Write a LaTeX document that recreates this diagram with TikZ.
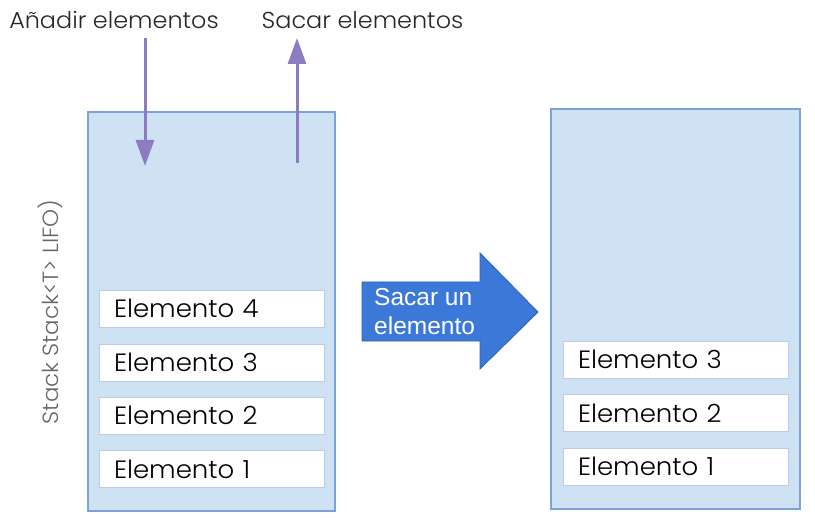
\documentclass[tikz,border=0pt]{standalone}
\usepackage{fontspec}
\setmainfont{Poppins Light}[FakeStretch=1.04]
\newfontfamily\arialfont{Liberation Sans}
\usetikzlibrary{arrows.meta}
\definecolor{stackfill}{HTML}{CFE2F3}
\definecolor{stackline}{HTML}{7BA3DA}
\definecolor{itemline}{HTML}{B7CDEB}
\definecolor{violetarrow}{HTML}{8E7CC3}
\definecolor{bigblue}{HTML}{3C78D8}
\definecolor{bigblueline}{HTML}{2F62B5}
\definecolor{greytext}{HTML}{666666}
\tikzset{
  stackbox/.style={draw=stackline, fill=stackfill, line width=1.2pt, inner sep=0pt},
  itembox/.style={draw=itemline, fill=white, line width=1pt, minimum height=37pt, text width=195pt, inner xsep=15pt, inner ysep=0pt, align=left, font=\fontsize{25}{28}\selectfont},
  toplabel/.style={anchor=base, font=\fontsize{23}{26}\selectfont, text=black!85},
  purplearrow/.style={draw=violetarrow, line width=3pt, -{Triangle[width=18pt,length=26pt]}},
}
\begin{document}
\begin{tikzpicture}[x=1pt,y=-1pt]
\useasboundingbox (0,0) rectangle (815,524);
% stacks
\node[stackbox, minimum width=247pt, minimum height=399pt] (left) at (211.5,311.5) {};
\node[stackbox, minimum width=249pt, minimum height=400pt] (right) at (675.5,309) {};
% left elements
\node[itembox] (l4) at (211.5,308.5) {Elemento 4};
\node[itembox] (l3) at (211.5,362.5) {Elemento 3};
\node[itembox] (l2) at (211.5,415.5) {Elemento 2};
\node[itembox] (l1) at (211.5,469) {Elemento 1};
% right elements
\node[itembox] (r3) at (675.5,359.5) {Elemento 3};
\node[itembox] (r2) at (675.5,413) {Elemento 2};
\node[itembox] (r1) at (675.5,466.5) {Elemento 1};
% top labels
\node[toplabel] (add) at (114,29) {Añadir elementos};
\node[toplabel] (take) at (362.5,29) {Sacar elementos};
% purple arrows
\coordinate (addstart) at (145,38);
\coordinate (addend) at (145,166);
\coordinate (takestart) at (297,163);
\coordinate (takeend) at (297,38);
\draw[purplearrow] (addstart) -- (addend);
\draw[purplearrow] (takestart) -- (takeend);
% side label
\node[rotate=90, text=greytext, font=\fontsize{22}{25}\selectfont] (side) at (50,312) {Stack Stack<T> LIFO)};
% big arrow
\draw[fill=bigblue, draw=bigblueline, line width=0.8pt] (362,282) -- (480,282) -- (480,253) -- (538,312) -- (480,369) -- (480,341) -- (362,341) -- cycle;
\node[anchor=west, text=white, align=left, inner sep=0pt, font=\arialfont\fontsize{24.5}{29}\selectfont] (bigtext) at (374,312) {Sacar un\\elemento};
\end{tikzpicture}
\end{document}
